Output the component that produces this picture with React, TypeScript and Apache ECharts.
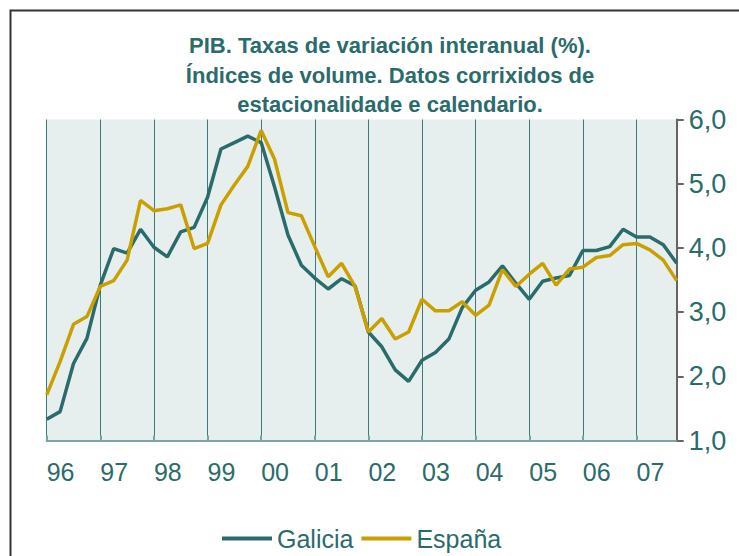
import React, { useEffect, useRef } from "react";
import * as echarts from "echarts";

const years = ["96", "97", "98", "99", "00", "01", "02", "03", "04", "05", "06", "07"];
const quarters = ["I", "II", "III", "IV"];
const categories = years.flatMap((y) => quarters.map((q) => `${y}-${q}`));

const galicia = [
  1.33, 1.45, 2.2, 2.59, 3.42, 3.99, 3.92, 4.29, 4.01, 3.86, 4.25, 4.32,
  4.79, 5.54, 5.64, 5.74, 5.64, 4.95, 4.2, 3.73, 3.53, 3.36, 3.52, 3.41,
  2.69, 2.46, 2.1, 1.92, 2.25, 2.37, 2.58, 3.07, 3.34, 3.47, 3.72, 3.45,
  3.2, 3.48, 3.53, 3.57, 3.96, 3.96, 4.02, 4.29, 4.17, 4.17, 4.05, 3.76,
];
const espana = [
  1.71, 2.23, 2.81, 2.93, 3.4, 3.49, 3.81, 4.74, 4.58, 4.61, 4.67, 3.99,
  4.07, 4.67, 4.98, 5.27, 5.83, 5.38, 4.55, 4.5, 4.02, 3.55, 3.76, 3.4,
  2.69, 2.9, 2.58, 2.69, 3.2, 3.02, 3.02, 3.16, 2.95, 3.11, 3.66, 3.4,
  3.59, 3.76, 3.42, 3.67, 3.7, 3.85, 3.88, 4.05, 4.07, 3.97, 3.81, 3.49,
];

const titleText =
  "PIB. Taxas de variación interanual (%).\nÍndices de volume. Datos corrixidos de\nestacionalidade e calendario.";

const TEAL = "#2a6b6b";
const GOLD = "#c9a000";

export default function App() {
  const ref = useRef<HTMLDivElement>(null);
  useEffect(() => {
    if (!ref.current) return;
    const chart = echarts.init(ref.current, undefined, { renderer: "svg" });
    const font = "'Liberation Sans', Arial, sans-serif";
    chart.setOption({
      animation: false,
      backgroundColor: "#ffffff",
      title: {
        text: titleText,
        left: 385,
        top: 26,
        textAlign: "center",
        textStyle: {
          color: TEAL,
          fontFamily: font,
          fontWeight: "bold",
          fontSize: 22,
          lineHeight: 29.5,
        },
      },
      legend: {
        left: 217,
        top: 521,
        icon: "rect",
        itemWidth: 50,
        itemHeight: 4,
        itemGap: 8,
        textStyle: { color: TEAL, fontFamily: font, fontSize: 25 },
        data: ["Galicia", "España"],
      },
      grid: {
        left: 46.7,
        right: 62.3,
        top: 119.5,
        bottom: 115.5,
        show: true,
        backgroundColor: "#e6efee",
        borderWidth: 0,
      },
      xAxis: {
        type: "category",
        data: categories,
        boundaryGap: false,
        axisLine: { show: true, lineStyle: { color: "#7aa3a3", width: 2 } },
        axisTick: {
          show: true,
          inside: true,
          length: 5,
          interval: (i: number) => i % 4 === 0,
          lineStyle: { color: "#7aa3a3", width: 2 },
        },
        splitLine: {
          show: true,
          interval: (i: number) => i % 4 === 0,
          lineStyle: { color: "#3f7a7a", width: 1 },
        },
        axisLabel: {
          interval: (i: number) => i % 4 === 0,
          formatter: (v: string) => v.slice(0, 2),
          align: "left",
          margin: 19,
          color: TEAL,
          fontFamily: font,
          fontSize: 25,
        },
      },
      yAxis: {
        type: "value",
        position: "right",
        min: 1,
        max: 6,
        interval: 1,
        axisLine: { show: true, lineStyle: { color: "#666666", width: 2 } },
        axisTick: { show: true, length: 7, lineStyle: { color: "#666666", width: 2 } },
        splitLine: { show: false },
        axisLabel: {
          margin: 12,
          formatter: (v: number) => v.toFixed(1).replace(".", ","),
          color: TEAL,
          fontFamily: font,
          fontSize: 27,
        },
      },
      series: [
        {
          name: "Galicia",
          type: "line",
          data: galicia,
          symbol: "none",
          color: TEAL,
          lineStyle: { color: TEAL, width: 3.5 },
        },
        {
          name: "España",
          type: "line",
          data: espana,
          symbol: "none",
          color: GOLD,
          lineStyle: { color: GOLD, width: 3.5 },
        },
      ],
      graphic: [
        {
          type: "polyline",
          shape: { points: [[10.5, 556], [10.5, 10.5], [739, 10.5]] },
          style: { stroke: "#333333", lineWidth: 2, fill: "none" },
          silent: true,
        },
      ],
    });
    return () => chart.dispose();
  }, []);
  return (
    <div
      ref={ref}
      style={{ position: "absolute", left: 0, top: 0, width: 739, height: 556 }}
    />
  );
}
